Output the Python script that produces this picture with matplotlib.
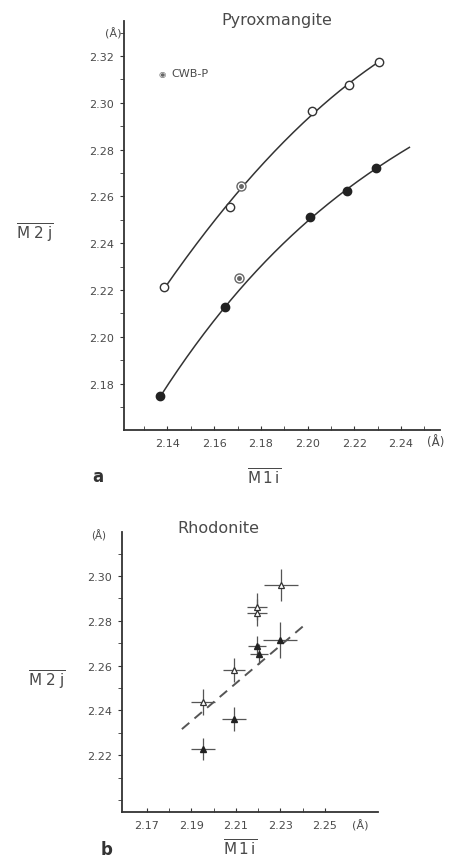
import matplotlib
matplotlib.use("Agg")
import matplotlib.pyplot as plt
import numpy as np

plt.rcParams['font.family'] = ['DejaVu Sans']
plt.rcParams['mathtext.fontset'] = 'dejavusans'

ink = '#333333'
txt = '#4a4a4a'

# ---- (a) Pyroxmangite ----
pxm_open_x = [2.1387, 2.1666, 2.2017, 2.2179, 2.2304]
pxm_open_y = [2.2213, 2.2555, 2.2965, 2.3076, 2.3174]
pxm_fill_x = [2.1370, 2.1648, 2.2012, 2.2167, 2.2295]
pxm_fill_y = [2.1747, 2.2127, 2.2512, 2.2623, 2.2721]
cwb_x = [2.1717, 2.1708]
cwb_y = [2.2644, 2.2251]
# hand-drawn curve end points
upper_end = [2.2304, 2.3174]
lower_end = [2.2436, 2.2811]

a_xticks = [2.14, 2.16, 2.18, 2.20, 2.22, 2.24]
a_xminor = [2.13, 2.15, 2.17, 2.19, 2.21, 2.23, 2.25]
a_yticks = [2.18, 2.20, 2.22, 2.24, 2.26, 2.28, 2.30, 2.32]
a_yminor = [2.17, 2.19, 2.21, 2.23, 2.25, 2.27, 2.29, 2.31, 2.33]

# ---- (b) Rhodonite ----
rho_open_x = [2.1952, 2.2091, 2.2194, 2.2194, 2.2302]
rho_open_y = [2.2437, 2.2580, 2.2835, 2.2862, 2.2960]
rho_open_xe = [0.0055, 0.0050, 0.0045, 0.0045, 0.0075]
rho_open_ye = [0.0060, 0.0055, 0.0060, 0.0060, 0.0070]
rho_fill_x = [2.1952, 2.2091, 2.2194, 2.2203, 2.2298]
rho_fill_y = [2.2227, 2.2361, 2.2688, 2.2652, 2.2714]
rho_fill_xe = [0.0055, 0.0055, 0.0040, 0.0040, 0.0075]
rho_fill_ye = [0.0050, 0.0055, 0.0045, 0.0045, 0.0080]
trend_x = [2.1857, 2.2419]
trend_y = [2.2316, 2.2790]

b_xticks = [2.17, 2.19, 2.21, 2.23, 2.25]
b_xminor = [2.18, 2.20, 2.22, 2.24]
b_yticks = [2.22, 2.24, 2.26, 2.28, 2.30]
b_yminor = [2.20, 2.21, 2.23, 2.25, 2.27, 2.29, 2.31]

W, H = 453, 862
fig = plt.figure(figsize=(W / 100, H / 100), dpi=100)


def px_axes(l, t, r, b):
    return fig.add_axes([l / W, 1 - b / H, (r - l) / W, (b - t) / H])


def style(ax, xt, xm, yt, ym):
    for s in ['top', 'right']:
        ax.spines[s].set_visible(False)
    for s in ['left', 'bottom']:
        ax.spines[s].set_color(ink)
        ax.spines[s].set_linewidth(1.3)
    ax.set_xticks(xt)
    ax.set_xticks(xm, minor=True)
    ax.set_yticks(yt)
    ax.set_yticks(ym, minor=True)
    ax.set_xticklabels(['%.2f' % v for v in xt])
    ax.set_yticklabels(['%.2f' % v for v in yt])
    ax.tick_params(axis='x', which='both', direction='in', length=3,
                   color=ink, labelsize=8, labelcolor=txt, pad=6)
    ax.tick_params(axis='y', which='both', direction='out', length=3,
                   color=ink, labelsize=8, labelcolor=txt, pad=4)


# panel a
ax = px_axes(124, 22, 440, 431)
ax.set_xlim(2.1214, 2.2567)
ax.set_ylim(2.1602, 2.3350)
style(ax, a_xticks, a_xminor, a_yticks, a_yminor)

# upper curve runs through the CWB-P point, lower curve does not
up_x = pxm_open_x + [cwb_x[0]]
up_y = pxm_open_y + [cwb_y[0]]
cu = np.polyfit(up_x, up_y, 2)
xx = np.linspace(pxm_open_x[0], upper_end[0], 200)
ax.plot(xx, np.polyval(cu, xx), color=ink, lw=1.1, zorder=2)

lo_x = pxm_fill_x + [lower_end[0]]
lo_y = pxm_fill_y + [lower_end[1]]
cl = np.polyfit(lo_x, lo_y, 3)
xx = np.linspace(pxm_fill_x[0], lower_end[0], 200)
ax.plot(xx, np.polyval(cl, xx), color=ink, lw=1.1, zorder=2)

ax.plot(pxm_open_x, pxm_open_y, 'o', ms=6, mfc='white', mec=ink, mew=1.0, zorder=3)
ax.plot(pxm_fill_x, pxm_fill_y, 'o', ms=6, mfc='#222222', mec='#222222', zorder=3)
ax.plot(cwb_x, cwb_y, 'o', ms=6.5, mfc='white', mec='#666666', mew=1.0, zorder=3)
ax.plot(cwb_x, cwb_y, 'o', ms=2.5, mfc='#666666', mec='#666666', zorder=4)

fig.text(277 / W, 1 - 20 / H, 'Pyroxmangite', ha='center', va='center',
         fontsize=11.5, color=txt)
fig.text(162 / W, 1 - 74 / H, '\u25C9', ha='center', va='center',
         fontsize=6, color='#666666')
fig.text(171 / W, 1 - 74 / H, 'CWB-P', ha='left', va='center',
         fontsize=8, color=txt)
fig.text(113 / W, 1 - 34 / H, '(Å)', ha='center', va='center',
         fontsize=8, color=txt)
fig.text(436 / W, 1 - 443 / H, '(Å)', ha='center', va='center',
         fontsize=8.5, color=txt)
fig.text(35 / W, 1 - 233 / H, r'$\overline{\mathrm{M\;2\;j}}$', ha='center',
         va='center', fontsize=11, color=txt)
fig.text(264 / W, 1 - 478 / H, r'$\overline{\mathrm{M\,1\,i}}$', ha='center',
         va='center', fontsize=11, color=txt)
fig.text(98 / W, 1 - 477 / H, 'a', ha='center', va='center',
         fontsize=12, fontweight='bold', color='#333333')

# panel b
bx = px_axes(122, 533, 378, 813)
bx.set_xlim(2.1588, 2.2738)
bx.set_ylim(2.1946, 2.3196)
style(bx, b_xticks, b_xminor, b_yticks, b_yminor)

bx.plot(trend_x, trend_y, color='#555555', lw=1.4, dashes=(5, 3.5), zorder=2)
bx.errorbar(rho_open_x, rho_open_y, xerr=rho_open_xe, yerr=rho_open_ye,
            fmt='^', ms=4.5, mfc='white', mec=ink, mew=0.9, ecolor='#555555',
            elinewidth=0.9, capsize=0, zorder=3)
bx.errorbar(rho_fill_x, rho_fill_y, xerr=rho_fill_xe, yerr=rho_fill_ye,
            fmt='^', ms=4.5, mfc='#222222', mec='#222222', ecolor='#555555',
            elinewidth=0.9, capsize=0, zorder=3)

fig.text(218 / W, 1 - 529 / H, 'Rhodonite', ha='center', va='center',
         fontsize=11.5, color=txt)
fig.text(99 / W, 1 - 536 / H, '(Å)', ha='center', va='center',
         fontsize=7.5, color=txt)
fig.text(360 / W, 1 - 826 / H, '(Å)', ha='center', va='center',
         fontsize=8, color=txt)
fig.text(47 / W, 1 - 680 / H, r'$\overline{\mathrm{M\;2\;j}}$', ha='center',
         va='center', fontsize=11, color=txt)
fig.text(240 / W, 1 - 849 / H, r'$\overline{\mathrm{M\,1\,i}}$', ha='center',
         va='center', fontsize=11, color=txt)
fig.text(107 / W, 1 - 850 / H, 'b', ha='center', va='center',
         fontsize=12, fontweight='bold', color='#333333')

fig.savefig('out.png', dpi=100)
